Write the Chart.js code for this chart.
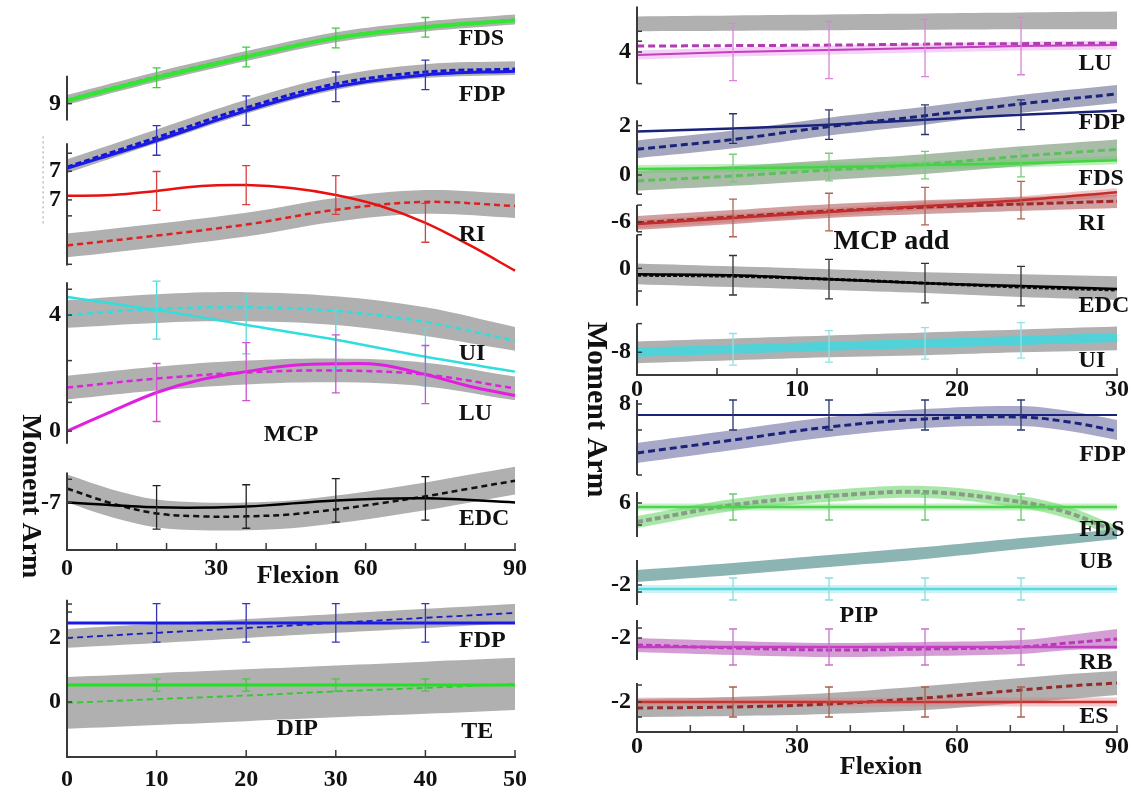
<!DOCTYPE html>
<html>
<head>
<meta charset="utf-8">
<title>Moment arms</title>
<script src="https://cdn.jsdelivr.net/npm/chart.js@4.4.1/dist/chart.umd.min.js"></script>
<style>
  html, body { margin: 0; padding: 0; background: #fff; width: 1139px; height: 799px; overflow: hidden; }
  canvas { position: absolute; left: 0; top: 0; }
</style>
</head>
<body>
<canvas id="mcp" width="1139" height="799"></canvas>
<canvas id="dip" width="1139" height="799"></canvas>
<canvas id="add" width="1139" height="799"></canvas>
<canvas id="pip" width="1139" height="799"></canvas>
<script>
// ---- MCP flexion (left, top) ----
const mcpFlex = [0, 18, 36, 54, 72, 90];
const mcpFlexFine = [0, 9, 18, 27, 36, 45, 54, 63, 72, 81, 90];
const mcpErrFlex = [18, 36, 54, 72];

const mcpFdsExp   = [9.10, 9.89, 10.61, 11.26, 11.63, 11.87];
const mcpFdsModel = [9.12, 9.92, 10.63, 11.27, 11.64, 11.88];
const mcpFdsHi    = [9.30, 10.09, 10.81, 11.46, 11.83, 12.07];
const mcpFdsLo    = [8.96, 9.75, 10.47, 11.12, 11.49, 11.73];
const mcpFdsSd    = [0.34, 0.34, 0.34, 0.34];

const mcpFdpExp   = [7.10, 8.06, 9.09, 9.91, 10.32, 10.45];
const mcpFdpModel = [7.14, 8.16, 9.19, 10.01, 10.42, 10.52];
const mcpFdpHi    = [7.41, 8.44, 9.46, 10.28, 10.69, 10.79];
const mcpFdpLo    = [6.93, 7.96, 8.98, 9.80, 10.21, 10.32];
const mcpFdpSd    = [0.51, 0.51, 0.51, 0.51];

const mcpRiExp    = [7.14, 7.17, 7.31, 7.48, 7.51, 7.41, 7.17, 6.79, 6.21, 5.43, 4.56]; // fine grid
const mcpRiModel  = [5.43, 5.77, 6.15, 6.66, 6.93, 6.79];
const mcpRiHi     = [5.84, 6.18, 6.56, 7.07, 7.34, 7.21];
const mcpRiLo     = [5.02, 5.36, 5.74, 6.25, 6.52, 6.38];
const mcpRiSd     = [0.67, 0.67, 0.67, 0.67];

const mcpUiExp    = [4.62, 4.17, 3.66, 3.15, 2.56, 2.05];
const mcpUiModel  = [4.00, 4.21, 4.27, 4.14, 3.76, 3.11];
const mcpUiHi     = [4.51, 4.72, 4.79, 4.65, 4.27, 3.59];
const mcpUiLo     = [3.56, 3.73, 3.79, 3.66, 3.28, 2.77];
const mcpUiSd     = [1.0, 1.0, 1.0, 1.0];

const mcpLuExp    = [0.00, 0.68, 1.33, 1.78, 2.05, 2.26, 2.32, 2.29, 1.95, 1.54, 1.23]; // fine grid
const mcpLuModel  = [1.50, 1.81, 2.02, 2.09, 1.95, 1.47];
const mcpLuHi     = [1.91, 2.22, 2.43, 2.50, 2.36, 1.88];
const mcpLuLo     = [1.09, 1.40, 1.61, 1.68, 1.54, 1.06];
const mcpLuSd     = [1.0, 1.0, 1.0, 1.0];

const mcpEdcExp   = [-7.00, -7.17, -7.14, -6.93, -6.86, -7.00];
const mcpEdcModel = [-6.52, -7.03, -7.38, -7.48, -7.48, -7.41, -7.24, -7.03, -6.79, -6.52, -6.25]; // fine grid
const mcpEdcHi    = [-6.04, -6.55, -6.90, -7.00, -7.00, -6.93, -6.76, -6.55, -6.31, -6.04, -5.77];
const mcpEdcLo    = [-7.00, -7.51, -7.86, -7.96, -7.96, -7.89, -7.72, -7.51, -7.27, -7.00, -6.73];
const mcpEdcSd    = [0.75, 0.75, 0.75, 0.75];

// ---- DIP flexion (left, bottom) ----
const dipFlex = [0, 10, 20, 30, 40, 50];
const dipErrFlex = [10, 20, 30, 40];

const dipFdpExp   = [2.47, 2.47, 2.47, 2.47, 2.47, 2.47];
const dipFdpModel = [2.00, 2.16, 2.31, 2.47, 2.63, 2.78];
const dipFdpHi    = [2.28, 2.44, 2.59, 2.75, 2.91, 3.06];
const dipFdpLo    = [1.69, 1.84, 2.00, 2.16, 2.31, 2.47];
const dipFdpSd    = [0.6, 0.6, 0.6, 0.6];

const dipTeExp    = [0.53, 0.53, 0.53, 0.53, 0.53, 0.53];
const dipTeModel  = [-0.03, 0.09, 0.20, 0.33, 0.44, 0.56];
const dipTeHi     = [0.78, 0.90, 1.02, 1.14, 1.26, 1.38];
const dipTeLo     = [-0.84, -0.72, -0.60, -0.48, -0.37, -0.25];
const dipTeSd     = [0.19, 0.19, 0.19, 0.19];

// ---- MCP adduction (right, top) ----
const addFlex = [0, 6, 12, 18, 24, 30];
const addErrFlex = [6, 12, 18, 24];

const addLuExp    = [3.88, 4.00, 4.08, 4.16, 4.24, 4.28];
const addLuModel  = [4.24, 4.26, 4.28, 4.32, 4.34, 4.36];
const addLuHi     = [5.44, 5.48, 5.52, 5.56, 5.60, 5.64];
const addLuLo     = [4.84, 4.86, 4.88, 4.90, 4.92, 4.92];
const addLuSd     = [1.16, 1.16, 1.16, 1.16];

const addFdpExp   = [1.76, 1.88, 2.04, 2.24, 2.44, 2.60];
const addFdpModel = [1.04, 1.44, 1.96, 2.40, 2.88, 3.28];
const addFdpHi    = [1.40, 1.80, 2.32, 2.76, 3.24, 3.64];
const addFdpLo    = [0.68, 1.08, 1.60, 2.04, 2.52, 2.92];
const addFdpSd    = [0.6, 0.6, 0.6, 0.6];

const addFdsExp   = [0.24, 0.28, 0.32, 0.40, 0.48, 0.60];
const addFdsModel = [-0.24, -0.04, 0.20, 0.44, 0.76, 1.04];
const addFdsHi    = [0.16, 0.36, 0.60, 0.84, 1.16, 1.44];
const addFdsLo    = [-0.64, -0.44, -0.20, 0.04, 0.36, 0.64];
const addFdsSd    = [0.56, 0.56, 0.56, 0.56];

const addRiExp    = [-6.08, -5.84, -5.60, -5.36, -5.12, -4.80];
const addRiModel  = [-6.04, -5.80, -5.56, -5.40, -5.28, -5.16];
const addRiHi     = [-5.76, -5.52, -5.28, -5.12, -5.00, -4.88];
const addRiLo     = [-6.32, -6.08, -5.84, -5.68, -5.56, -5.44];
const addRiSd     = [0.76, 0.76, 0.76, 0.76];

const addEdcExp   = [-0.24, -0.28, -0.44, -0.60, -0.72, -0.84];
const addEdcModel = [-0.28, -0.32, -0.44, -0.60, -0.76, -0.88];
const addEdcHi    = [0.20, 0.08, -0.04, -0.16, -0.24, -0.32];
const addEdcLo    = [-0.64, -0.76, -0.88, -1.00, -1.16, -1.28];
const addEdcSd    = [0.8, 0.8, 0.8, 0.8];

const addUiModel  = [-8.00, -7.88, -7.76, -7.64, -7.52, -7.40];
const addUiHi     = [-7.56, -7.44, -7.32, -7.20, -7.08, -6.96];
const addUiLo     = [-8.44, -8.32, -8.20, -8.12, -8.00, -7.92];
const addUiSd     = [0.64, 0.64, 0.64, 0.72];

// ---- PIP flexion (right, bottom) ----
const pipFlex = [0, 18, 36, 54, 72, 81, 90];
const pipErrFlex = [18, 36, 54, 72];

const pipFdpExp   = [7.56, 7.56, 7.56, 7.56, 7.56, 7.56, 7.56];
const pipFdpModel = [6.04, 6.56, 7.08, 7.40, 7.48, 7.28, 6.92];
const pipFdpHi    = [6.44, 6.96, 7.48, 7.80, 7.92, 7.72, 7.36];
const pipFdpLo    = [5.64, 6.16, 6.68, 7.04, 7.12, 6.92, 6.56];
const pipFdpSd    = [0.6, 0.6, 0.6, 0.6];

const pipFdsExp   = [5.84, 5.84, 5.84, 5.84, 5.84, 5.84, 5.84];
const pipFdsModel = [5.24, 5.92, 6.28, 6.44, 6.04, 5.60, 4.84];
const pipFdsHi    = [5.48, 6.16, 6.52, 6.68, 6.28, 5.84, 5.08];
const pipFdsLo    = [5.00, 5.68, 6.04, 6.20, 5.80, 5.36, 4.60];
const pipFdsSd    = [0.52, 0.52, 0.52, 0.52];

const pipUbExp    = [-2.16, -2.16, -2.16, -2.16, -2.16, -2.16, -2.16];
const pipUbHi     = [-1.40, -1.12, -0.80, -0.48, -0.12, 0.04, 0.24];
const pipUbLo     = [-1.88, -1.60, -1.28, -0.96, -0.56, -0.36, -0.16];
const pipUbSd     = [0.44, 0.44, 0.44, 0.44];

const pipRbExp    = [-2.36, -2.36, -2.36, -2.36, -2.36, -2.36, -2.36];
const pipRbModel  = [-2.28, -2.40, -2.48, -2.44, -2.36, -2.20, -2.04];
const pipRbHi     = [-2.00, -2.12, -2.20, -2.16, -2.08, -1.88, -1.64];
const pipRbLo     = [-2.56, -2.68, -2.76, -2.72, -2.64, -2.48, -2.44];
const pipRbSd     = [0.72, 0.72, 0.72, 0.72];

const pipEsExp    = [-2.00, -2.00, -2.00, -2.00, -2.00, -2.00, -2.00];
const pipEsModel  = [-2.24, -2.20, -2.08, -1.84, -1.52, -1.36, -1.24];
const pipEsHi     = [-1.88, -1.80, -1.64, -1.36, -1.04, -0.88, -0.76];
const pipEsLo     = [-2.60, -2.56, -2.48, -2.32, -2.04, -1.88, -1.72];
const pipEsSd     = [0.6, 0.6, 0.6, 0.6];

// vertical offsets used to stack the traces inside each panel
const mcpOff = { fds: 6.39, fdp: 6.06, ri: 5.07, uilu: 4.10, edc: 8.64 };
const dipOff = { all: 1.72 };
const addOff = { lu: 9.08, flex: 8.10, ri: 12.2, edc: 4.32, ui: 8.92 };
const pipOff = { fdp: 5.12, fds: 3.16, ub: 7.88, rb: 5.76, es: 3.2 };

const SERIF = '"Liberation Serif", "Times New Roman", serif';
const GREY = '#b0b0b0';

function pts(xs, vs, off) {
  return xs.map((x, i) => ({ x: x, y: vs[i] + off }));
}
function band(xs, lo, hi, off, color) {
  return [
    { data: pts(xs, lo, off), borderColor: 'rgba(0,0,0,0)', borderWidth: 0, fill: false },
    { data: pts(xs, hi, off), borderColor: 'rgba(0,0,0,0)', borderWidth: 0, fill: '-1', backgroundColor: color }
  ];
}
function curve(xs, vs, off, color, width, dash) {
  return { data: pts(xs, vs, off), borderColor: color, borderWidth: width, borderDash: dash || [], fill: false };
}
function err(xs, vs, off, sd, color) {
  return { xs: xs, vs: vs, off: off, sd: sd, color: color };
}

// draws the broken y axis, inward ticks, error bars and the text labels
const decor = {
  id: 'decor',
  afterDraw(chart, args, o) {
    const ctx = chart.ctx;
    const xs = chart.scales.x, ys = chart.scales.y;
    const px = v => xs.getPixelForValue(v);
    const py = v => ys.getPixelForValue(v);
    ctx.save();
    ctx.strokeStyle = '#3a3a3a';
    ctx.lineWidth = 2;
    o.segments.forEach(s => {
      ctx.beginPath();
      ctx.moveTo(xs.left, py(s[0]));
      ctx.lineTo(xs.left, py(s[1]));
      ctx.stroke();
    });
    (o.guides || []).forEach(g => {
      ctx.save();
      ctx.strokeStyle = '#9a9a9a';
      ctx.lineWidth = 1;
      ctx.setLineDash([2, 3]);
      ctx.beginPath();
      ctx.moveTo(px(g[0]), py(g[1]));
      ctx.lineTo(px(g[0]), py(g[2]));
      ctx.stroke();
      ctx.restore();
    });
    ctx.lineWidth = 1.5;
    o.yTicks.forEach(t => {
      ctx.beginPath();
      ctx.moveTo(xs.left, py(t.u));
      ctx.lineTo(xs.left + 5, py(t.u));
      ctx.stroke();
    });
    xs.ticks.forEach(t => {
      ctx.beginPath();
      ctx.moveTo(px(t.value), ys.bottom);
      ctx.lineTo(px(t.value), ys.bottom - 7);
      ctx.stroke();
    });
    o.errors.forEach(e => {
      ctx.strokeStyle = e.color;
      ctx.lineWidth = 1.3;
      o.errFlex.forEach((fx, i) => {
        const c = e.vs[e.xs.indexOf(fx)] + e.off;
        const x = px(fx), y1 = py(c + e.sd[i]), y2 = py(c - e.sd[i]);
        ctx.beginPath();
        ctx.moveTo(x, y1); ctx.lineTo(x, y2);
        ctx.moveTo(x - 4, y1); ctx.lineTo(x + 4, y1);
        ctx.moveTo(x - 4, y2); ctx.lineTo(x + 4, y2);
        ctx.stroke();
      });
    });
    ctx.fillStyle = '#111';
    ctx.textBaseline = 'middle';
    o.labels.forEach(l => {
      ctx.font = 'bold ' + (l.size || 24) + 'px ' + SERIF;
      ctx.textAlign = l.align || 'left';
      if (l.rotate) {
        ctx.save();
        ctx.translate(px(l.x), py(l.u));
        ctx.rotate(Math.PI / 2);
        ctx.textAlign = 'center';
        ctx.fillText(l.t, 0, 0);
        ctx.restore();
      } else {
        ctx.fillText(l.t, px(l.x), py(l.u));
      }
    });
    ctx.restore();
  }
};

const tickFont = { family: SERIF, weight: 'bold', size: 24 };
const tinyFont = { family: SERIF, size: 1 };

function makeChart(id, cfg) {
  const yt = cfg.yTicks;
  // unlabeled guard ticks first and last keep the axis from reserving label room
  const axisTicks = [{ u: 0, label: '' }].concat(yt, [{ u: 0, label: '' }]);
  const n = cfg.datasets.length;
  return new Chart(document.getElementById(id), {
    type: 'line',
    data: {
      datasets: cfg.datasets.map((d, i) =>
        Object.assign({ pointRadius: 0, tension: 0.35, clip: false, order: n - i }, d))
    },
    options: {
      responsive: false,
      animation: false,
      devicePixelRatio: 1,
      layout: { padding: cfg.padding },
      plugins: {
        legend: { display: false },
        tooltip: { enabled: false },
        decor: {
          segments: cfg.segments, guides: cfg.guides, yTicks: yt,
          errors: cfg.errors, errFlex: cfg.errFlex, labels: cfg.labels
        }
      },
      scales: {
        x: {
          type: 'linear', min: cfg.xMin, max: cfg.xMax,
          grid: { display: false, drawTicks: false },
          border: { display: true, color: '#3a3a3a', width: 2 },
          ticks: {
            stepSize: cfg.xStep, autoSkip: false, maxRotation: 0, padding: cfg.xPad, color: '#111',
            font: tickFont,
            callback: v => (v % cfg.xLabelEvery === 0 ? v : '')
          },
          afterFit: s => { s.height = cfg.xHeight; }
        },
        y: {
          type: 'linear', min: 0, max: cfg.yMax,
          grid: { display: false, drawTicks: false },
          border: { display: false },
          ticks: {
            autoSkip: false, padding: 6, color: '#111',
            font: c => (axisTicks[c.index] && axisTicks[c.index].label ? tickFont : tinyFont),
            callback: (v, i) => (axisTicks[i] ? axisTicks[i].label : '')
          },
          afterBuildTicks: s => { s.ticks = axisTicks.map(t => ({ value: t.u })); },
          afterFit: s => { s.width = 50; }
        }
      }
    },
    plugins: [decor]
  });
}
function tk(off, v, label) { return { u: off + v, label: label || '' }; }
function seg(off, lo, hi) { return [off + lo, off + hi]; }

// ---------- left top: MCP ----------
makeChart('mcp', {
  padding: { left: 17, right: 624, top: 2, bottom: 219 },
  xMin: 0, xMax: 90, xStep: 10, xLabelEvery: 30, xPad: 4, xHeight: 30, yMax: 18.735,
  errFlex: mcpErrFlex,
  datasets: [
    ...band(mcpFlex, mcpFdsLo, mcpFdsHi, mcpOff.fds, GREY),
    curve(mcpFlex, mcpFdsModel, mcpOff.fds, '#22cc22', 3, [6, 3]),
    curve(mcpFlex, mcpFdsExp, mcpOff.fds, '#33e633', 4),
    ...band(mcpFlex, mcpFdpLo, mcpFdpHi, mcpOff.fdp, GREY),
    curve(mcpFlex, mcpFdpModel, mcpOff.fdp, '#1515d0', 3, [6, 3]),
    curve(mcpFlex, mcpFdpExp, mcpOff.fdp, '#1a1ae8', 3),
    ...band(mcpFlex, mcpRiLo, mcpRiHi, mcpOff.ri, GREY),
    curve(mcpFlex, mcpRiModel, mcpOff.ri, '#e02020', 2.5, [6, 4]),
    curve(mcpFlexFine, mcpRiExp, mcpOff.ri, '#e81010', 2.5),
    ...band(mcpFlex, mcpUiLo, mcpUiHi, mcpOff.uilu, GREY),
    curve(mcpFlex, mcpUiModel, mcpOff.uilu, '#30dede', 2.5, [6, 4]),
    curve(mcpFlex, mcpUiExp, mcpOff.uilu, '#30dede', 2.5),
    ...band(mcpFlex, mcpLuLo, mcpLuHi, mcpOff.uilu, GREY),
    curve(mcpFlex, mcpLuModel, mcpOff.uilu, '#dd22dd', 2.5, [6, 4]),
    curve(mcpFlexFine, mcpLuExp, mcpOff.uilu, '#e020e0', 3),
    ...band(mcpFlexFine, mcpEdcLo, mcpEdcHi, mcpOff.edc, GREY),
    curve(mcpFlexFine, mcpEdcModel, mcpOff.edc, '#111', 2.5, [6, 4]),
    curve(mcpFlex, mcpEdcExp, mcpOff.edc, '#000', 2.5)
  ],
  errors: [
    err(mcpFlex, mcpFdsExp, mcpOff.fds, mcpFdsSd, '#44c844'),
    err(mcpFlex, mcpFdpExp, mcpOff.fdp, mcpFdpSd, '#3434b8'),
    err(mcpFlexFine, mcpRiExp, mcpOff.ri, mcpRiSd, '#d84040'),
    err(mcpFlex, mcpUiExp, mcpOff.uilu, mcpUiSd, '#55dcdc'),
    err(mcpFlexFine, mcpLuExp, mcpOff.uilu, mcpLuSd, '#d050d0'),
    err(mcpFlex, mcpEdcExp, mcpOff.edc, mcpEdcSd, '#222')
  ],
  yTicks: [
    tk(mcpOff.fds, 9, '9'), tk(mcpOff.fdp, 7, '7'), tk(mcpOff.ri, 7, '7'),
    tk(mcpOff.ri, 8.61), tk(mcpOff.ri, 6.45), tk(mcpOff.ri, 4.78),
    tk(mcpOff.uilu, 4, '4'), tk(mcpOff.uilu, 0, '0'), tk(mcpOff.uilu, 4.89), tk(mcpOff.uilu, 2.43), tk(mcpOff.uilu, 0.99),
    tk(mcpOff.edc, -7, '-7'), tk(mcpOff.edc, -6.2)
  ],
  segments: [
    seg(mcpOff.fds, 8.42, 9.96), seg(mcpOff.ri, 4.74, 8.95),
    seg(mcpOff.uilu, -0.44, 5.13), seg(mcpOff.edc, -8.64, -5.97)
  ],
  guides: [[-4.8, 14.26, 11.18]],
  labels: [
    { t: 'FDS', x: 78.7, u: 17.64 }, { t: 'FDP', x: 78.7, u: 15.69 },
    { t: 'RI', x: 78.7, u: 10.87 }, { t: 'UI', x: 78.7, u: 6.77 },
    { t: 'LU', x: 78.7, u: 4.68 }, { t: 'MCP', x: 45, u: 3.97, align: 'center' },
    { t: 'EDC', x: 78.7, u: 1.06 }, { t: 'Flexion', x: 46.4, u: -0.92, align: 'center', size: 26 },
    { t: 'Moment Arm', x: -7.4, u: 1.85, rotate: true, size: 28 }
  ]
});

// ---------- left bottom: DIP ----------
makeChart('dip', {
  padding: { left: 17, right: 624, top: 600, bottom: 0 },
  xMin: 0, xMax: 50, xStep: 10, xLabelEvery: 10, xPad: 8, xHeight: 42, yMax: 4.906,
  errFlex: dipErrFlex,
  datasets: [
    ...band(dipFlex, dipFdpLo, dipFdpHi, dipOff.all, GREY),
    curve(dipFlex, dipFdpModel, dipOff.all, '#1a1ac8', 1.8, [6, 4]),
    curve(dipFlex, dipFdpExp, dipOff.all, '#1a1ae8', 3),
    ...band(dipFlex, dipTeLo, dipTeHi, dipOff.all, GREY),
    curve(dipFlex, dipTeModel, dipOff.all, '#2ccc2c', 1.8, [6, 4]),
    curve(dipFlex, dipTeExp, dipOff.all, '#22e022', 3)
  ],
  errors: [
    err(dipFlex, dipFdpExp, dipOff.all, dipFdpSd, '#3434b8'),
    err(dipFlex, dipTeExp, dipOff.all, dipTeSd, '#44c844')
  ],
  yTicks: [tk(dipOff.all, 2, '2'), tk(dipOff.all, 0, '0'), tk(dipOff.all, 3.06), tk(dipOff.all, 2.81)],
  segments: [seg(dipOff.all, -1.72, 3.19)],
  labels: [
    { t: 'FDP', x: 43.75, u: 3.63 }, { t: 'DIP', x: 25.7, u: 0.875, align: 'center' },
    { t: 'TE', x: 44, u: 0.78 }
  ]
});

// ---------- right top: MCP adduction ----------
makeChart('add', {
  padding: { left: 587, right: 22, top: 2, bottom: 394 },
  xMin: 0, xMax: 30, xStep: 5, xLabelEvery: 10, xPad: 0, xHeight: 30, yMax: 14.92,
  errFlex: addErrFlex,
  datasets: [
    ...band(addFlex, addLuLo, addLuHi, addOff.lu, GREY),
    curve(addFlex, addLuExp, addOff.lu, 'rgba(235,150,235,0.45)', 9),
    curve(addFlex, addLuModel, addOff.lu, '#b03cb0', 3, [7, 4]),
    curve(addFlex, addLuExp, addOff.lu, '#c040c0', 2),
    ...band(addFlex, addFdpLo, addFdpHi, addOff.flex, 'rgb(165,167,190)'),
    curve(addFlex, addFdpModel, addOff.flex, '#19237a', 3, [7, 4]),
    curve(addFlex, addFdpExp, addOff.flex, '#19237a', 2.5),
    ...band(addFlex, addFdsLo, addFdsHi, addOff.flex, 'rgb(168,188,168)'),
    curve(addFlex, addFdsExp, addOff.flex, 'rgba(90,215,90,0.4)', 8),
    curve(addFlex, addFdsModel, addOff.flex, '#5cc05c', 3, [7, 4]),
    curve(addFlex, addFdsExp, addOff.flex, '#44d444', 2.5),
    ...band(addFlex, addRiLo, addRiHi, addOff.ri, 'rgb(208,160,160)'),
    curve(addFlex, addRiExp, addOff.ri, 'rgba(220,90,90,0.35)', 8),
    curve(addFlex, addRiModel, addOff.ri, '#a02828', 3, [7, 3]),
    curve(addFlex, addRiExp, addOff.ri, '#bf2d2d', 2.5),
    ...band(addFlex, addEdcLo, addEdcHi, addOff.edc, GREY),
    curve(addFlex, addEdcModel, addOff.edc, '#111', 3, [4, 2]),
    curve(addFlex, addEdcExp, addOff.edc, '#000', 2.5),
    ...band(addFlex, addUiLo, addUiHi, addOff.ui, GREY),
    curve(addFlex, addUiModel, addOff.ui, 'rgba(75,212,218,0.95)', 9)
  ],
  errors: [
    err(addFlex, addLuExp, addOff.lu, addLuSd, '#d884d8'),
    err(addFlex, addFdpExp, addOff.flex, addFdpSd, '#2a3470'),
    err(addFlex, addFdsExp, addOff.flex, addFdsSd, '#78cc78'),
    err(addFlex, addRiExp, addOff.ri, addRiSd, '#b06450'),
    err(addFlex, addEdcExp, addOff.edc, addEdcSd, '#333'),
    err(addFlex, addUiModel, addOff.ui, addUiSd, '#90e2e6')
  ],
  yTicks: [
    tk(addOff.lu, 4, '4'), tk(addOff.lu, 4.84), tk(addOff.lu, 4.44), tk(addOff.lu, 2.72),
    tk(addOff.flex, 2, '2'), tk(addOff.flex, 0, '0'), tk(addOff.flex, -0.78),
    tk(addOff.ri, -6, '-6'), tk(addOff.ri, -5.32), tk(addOff.ri, -6.4),
    tk(addOff.edc, 0, '0'), tk(addOff.edc, 1.36), tk(addOff.edc, -0.92),
    tk(addOff.ui, -8, '-8'), tk(addOff.ui, -6.84)
  ],
  segments: [
    seg(addOff.lu, 2.72, 5.84), seg(addOff.flex, -0.78, 2.22), seg(addOff.ri, -6.4, -5.32),
    seg(addOff.edc, -1.52, 1.36), seg(addOff.ui, -8.92, -6.84)
  ],
  labels: [
    { t: 'LU', x: 27.6, u: 12.6 }, { t: 'FDP', x: 27.6, u: 10.2 },
    { t: 'FDS', x: 27.6, u: 7.96 }, { t: 'RI', x: 27.6, u: 6.12 },
    { t: 'MCP add', x: 15.9, u: 5.4, align: 'center', size: 28 },
    { t: 'EDC', x: 27.6, u: 2.8 }, { t: 'UI', x: 27.6, u: 0.56 },
    { t: 'Moment Arm', x: -2.6, u: -1.4, rotate: true, size: 30 }
  ]
});

// ---------- right bottom: PIP ----------
makeChart('pip', {
  padding: { left: 587, right: 22, top: 400, bottom: 37 },
  xMin: 0, xMax: 90, xStep: 10, xLabelEvery: 30, xPad: 0, xHeight: 30, yMax: 13.28,
  errFlex: pipErrFlex,
  datasets: [
    ...band(pipFlex, pipFdpLo, pipFdpHi, pipOff.fdp, 'rgb(168,168,200)'),
    curve(pipFlex, pipFdpModel, pipOff.fdp, '#19237a', 3, [7, 4]),
    curve(pipFlex, pipFdpExp, pipOff.fdp, '#19237a', 2),
    ...band(pipFlex, pipFdsLo, pipFdsHi, pipOff.fds, 'rgba(110,215,110,0.6)'),
    curve(pipFlex, pipFdsExp, pipOff.fds, 'rgba(90,215,90,0.35)', 7),
    curve(pipFlex, pipFdsModel, pipOff.fds, '#889c88', 4, [6, 3]),
    curve(pipFlex, pipFdsExp, pipOff.fds, '#4cd44c', 2.5),
    ...band(pipFlex, pipUbLo, pipUbHi, pipOff.ub, 'rgb(140,180,178)'),
    curve(pipFlex, pipUbExp, pipOff.ub, 'rgba(80,215,220,0.3)', 8),
    curve(pipFlex, pipUbExp, pipOff.ub, '#55d8de', 2.5),
    ...band(pipFlex, pipRbLo, pipRbHi, pipOff.rb, 'rgba(205,140,205,0.85)'),
    curve(pipFlex, pipRbModel, pipOff.rb, '#b838b8', 3, [6, 3]),
    curve(pipFlex, pipRbExp, pipOff.rb, '#c43cc4', 2.5),
    ...band(pipFlex, pipEsLo, pipEsHi, pipOff.es, GREY),
    curve(pipFlex, pipEsExp, pipOff.es, 'rgba(230,120,120,0.4)', 9),
    curve(pipFlex, pipEsModel, pipOff.es, '#962828', 3, [6, 4]),
    curve(pipFlex, pipEsExp, pipOff.es, '#c83232', 2.5)
  ],
  errors: [
    err(pipFlex, pipFdpExp, pipOff.fdp, pipFdpSd, '#2a3470'),
    err(pipFlex, pipFdsExp, pipOff.fds, pipFdsSd, '#6cc86c'),
    err(pipFlex, pipUbExp, pipOff.ub, pipUbSd, '#88dde2'),
    err(pipFlex, pipRbExp, pipOff.rb, pipRbSd, '#cc70cc'),
    err(pipFlex, pipEsExp, pipOff.es, pipEsSd, '#a8604a')
  ],
  yTicks: [
    tk(pipOff.fdp, 8, '8'), tk(pipOff.fdp, 6.96), tk(pipOff.fdp, 5.16),
    tk(pipOff.fds, 6, '6'), tk(pipOff.fds, 5.12),
    tk(pipOff.ub, -2, '-2'), tk(pipOff.ub, -2.28),
    tk(pipOff.rb, -2, '-2'), tk(pipOff.rb, -1.6),
    tk(pipOff.es, -2, '-2'), tk(pipOff.es, -1.32), tk(pipOff.es, -2.6)
  ],
  segments: [
    seg(pipOff.fdp, 5.16, 8.16), seg(pipOff.fds, 4.64, 6.44), seg(pipOff.ub, -2.8, -1.0),
    seg(pipOff.rb, -2.88, -1.28), seg(pipOff.es, -3.2, -1.24)
  ],
  labels: [
    { t: 'FDP', x: 82.9, u: 11.08 }, { t: 'FDS', x: 82.9, u: 8.08 },
    { t: 'UB', x: 82.9, u: 6.8 }, { t: 'PIP', x: 41.6, u: 4.64, align: 'center' },
    { t: 'RB', x: 82.9, u: 2.76 }, { t: 'ES', x: 82.9, u: 0.6 },
    { t: 'Flexion', x: 45.75, u: -1.4, align: 'center', size: 26 }
  ]
});
</script>
</body>
</html>
